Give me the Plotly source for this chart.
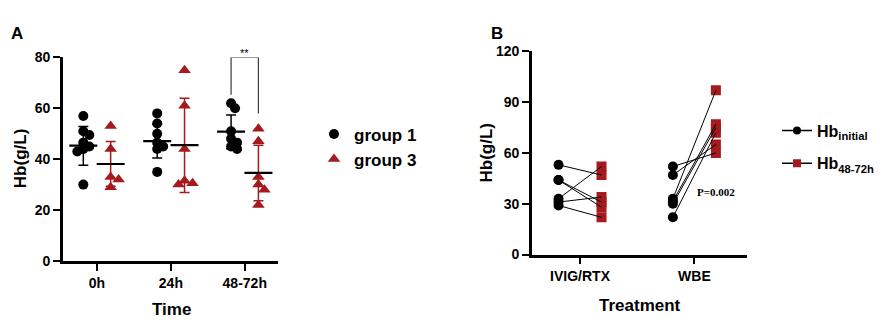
import math
import plotly.graph_objects as go

# ---------------- data: panel A ----------------
time_labels = ["0h", "24h", "48-72h"]
group1_0h = [57, 51, 49.5, 46.5, 45, 44, 43, 30]
group1_24h = [58, 54, 50, 46.5, 45, 44, 35]
group1_48h = [62, 60, 51, 48, 46.5, 45, 44]
group3_0h = [53, 44, 33, 32, 29]
group3_24h = [75, 61, 44, 31.5, 30.5, 30]
group3_48h = [52, 47, 33, 30, 28, 22]
group1_mean = [45.3, 47.1, 50.8]
group1_upper = [52.8, 53.7, 57.4]
group1_lower = [37.6, 40.5, 44.1]
group3_mean = [38.1, 45.5, 34.6]
group3_upper = [46.9, 64.0, 45.5]
group3_lower = [29.4, 26.9, 23.7]
sig_label = "**"
sig_left_end = 65.3
sig_right_end = 58.0
sig_top = 80

# ---------------- data: panel B ----------------
treatments = ["IVIG/RTX", "WBE"]
ivig_initial = [53, 44, 44, 33, 31, 29]
ivig_final = [47, 31, 28, 52, 34, 22]
wbe_initial = [52, 47, 33, 31.5, 30, 22]
wbe_final = [60, 65, 97, 77, 75, 72]
p_label = "P=0.002"

RED = "#A51A1C"
FONT = "Arial, Liberation Sans, sans-serif"
W, H = 887, 325


def px(x):
    return x / W


def py(y):
    return 1 - y / H


def swarm(vals, ppu_y, ppu_x, diam=6.0, step=2.0):
    placed, offs = [], []
    for v in vals:
        y = v * ppu_y
        for k in [0, 1, -1, 2, -2, 3, -3, 4, -4, 5, -5]:
            x = k * step
            if all(math.hypot(x - a, y - b) >= diam for a, b in placed):
                break
        placed.append((x, y))
        offs.append(x / ppu_x)
    return offs


fig = go.Figure()

# ---- panel A ----
A_PPY = 214 / 80.0
A_PPX = 74.0
OFF = 0.185
g1_sets = [group1_0h, group1_24h, group1_48h]
g3_sets = [group3_0h, group3_24h, group3_48h]

gx1, gy1, gx3, gy3 = [], [], [], []
for i, vals in enumerate(g1_sets):
    for v, o in zip(vals, swarm(vals, A_PPY, A_PPX)):
        gx1.append(i - OFF + o)
        gy1.append(v)
for i, vals in enumerate(g3_sets):
    for v, o in zip(vals, swarm(vals, A_PPY, A_PPX, diam=7.0)):
        gx3.append(i + OFF + o)
        gy3.append(v)

fig.add_trace(go.Scatter(x=gx1, y=gy1, mode="markers", name="group 1",
                         marker=dict(symbol="circle", size=10, color="black"),
                         xaxis="x", yaxis="y", legend="legend", legendgroup="g1"))
fig.add_trace(go.Scatter(x=gx3, y=gy3, mode="markers", name="group 3",
                         marker=dict(symbol="triangle-up", size=11, color=RED),
                         xaxis="x", yaxis="y", legend="legend", legendgroup="g3"))

# mean + SD
for means, up, lo, sign, col in [(group1_mean, group1_upper, group1_lower, -1, "black"),
                                 (group3_mean, group3_upper, group3_lower, 1, RED)]:
    xs = [i + sign * OFF for i in range(3)]
    fig.add_trace(go.Scatter(
        x=xs, y=means, mode="markers", showlegend=False,
        marker=dict(symbol="line-ew", size=20, color="black",
                    line=dict(width=2.2, color="black")),
        error_y=dict(type="data", symmetric=False,
                     array=[u - m for u, m in zip(up, means)],
                     arrayminus=[m - l for m, l in zip(means, lo)],
                     color=col, thickness=1.5, width=5),
        xaxis="x", yaxis="y"))

# significance bracket
xl, xr = 2 - OFF, 2 + OFF
fig.add_shape(type="path", xref="x", yref="y",
              path=f"M {xl},{sig_left_end} L {xl},{sig_top} L {xr},{sig_top} L {xr},{sig_right_end}",
              line=dict(color="#3a3a3a", width=1.2))
fig.add_annotation(x=2, y=sig_top, xref="x", yref="y", text=sig_label, showarrow=False,
                   yanchor="bottom", yshift=-4, font=dict(family=FONT, size=11, color="black"))

# ---- panel B ----
BOFF = 0.188
pairs = [(0, ivig_initial, ivig_final), (1, wbe_initial, wbe_final)]
ix, iy, fx, fy = [], [], [], []
for c, ini, fin in pairs:
    ix += [c - BOFF] * len(ini)
    iy += ini
    fx += [c + BOFF] * len(fin)
    fy += fin
fig.add_trace(go.Scatter(x=fx, y=fy, mode="markers", showlegend=False,
                         marker=dict(symbol="square", size=10, color=RED),
                         xaxis="x2", yaxis="y2"))
fig.add_trace(go.Scatter(x=ix, y=iy, mode="markers", showlegend=False,
                         marker=dict(symbol="circle", size=10, color="black"),
                         xaxis="x2", yaxis="y2"))
for c, ini, fin in pairs:
    for a, b in zip(ini, fin):
        fig.add_trace(go.Scatter(x=[c - BOFF, c + BOFF], y=[a, b], mode="lines",
                                 line=dict(color="black", width=1), showlegend=False,
                                 xaxis="x2", yaxis="y2", hoverinfo="skip"))

# legend entries for B
fig.add_trace(go.Scatter(x=[None], y=[None], mode="lines+markers",
                         name="Hb<sub>initial</sub>",
                         line=dict(color="black", width=1.5),
                         marker=dict(symbol="circle", size=8, color="black"),
                         xaxis="x2", yaxis="y2", legend="legend2", legendgroup="b1"))
fig.add_trace(go.Scatter(x=[None], y=[None], mode="lines+markers",
                         name="Hb<sub>48-72h</sub>",
                         line=dict(color="black", width=1.5),
                         marker=dict(symbol="square", size=8, color=RED),
                         xaxis="x2", yaxis="y2", legend="legend2", legendgroup="b2"))

fig.add_annotation(x=px(695), y=py(194), xref="paper", yref="paper", text=p_label,
                   showarrow=False, xanchor="left", yanchor="middle",
                   font=dict(family="Times New Roman, Liberation Serif, serif", size=11,
                             color="black", weight="bold"))

axis_common = dict(showline=True, linewidth=2.6, linecolor="black", ticks="outside",
                   ticklen=7, tickwidth=2.4, tickcolor="black", showgrid=False,
                   zeroline=False, fixedrange=True,
                   tickfont=dict(family=FONT, size=14, color="black", weight="bold"))

fig.update_layout(
    width=W, height=H, margin=dict(l=0, r=0, t=0, b=0),
    paper_bgcolor="white", plot_bgcolor="white",
    xaxis=dict(domain=[px(63), px(278)], range=[-0.46, 2.45], anchor="y",
               tickvals=[0, 1, 2], ticktext=time_labels, **axis_common),
    yaxis=dict(domain=[py(266), py(52)], range=[0, 80], anchor="x",
               tickvals=[0, 20, 40, 60, 80], **axis_common),
    xaxis2=dict(domain=[px(532), px(747)], range=[-0.42, 1.46], anchor="y2",
                tickvals=[0, 1], ticktext=treatments, **axis_common),
    yaxis2=dict(domain=[py(259.3), py(45.7)], range=[0, 120], anchor="x2",
                tickvals=[0, 30, 60, 90, 120], **axis_common),
    legend=dict(x=px(314), y=py(114), xanchor="left", yanchor="top",
                font=dict(family=FONT, size=17, color="black", weight="bold"),
                tracegroupgap=0, bgcolor="rgba(0,0,0,0)"),
    legend2=dict(x=px(777), y=py(111), xanchor="left", yanchor="top",
                 font=dict(family=FONT, size=16, color="black", weight="bold"),
                 tracegroupgap=9, bgcolor="rgba(0,0,0,0)"),
    showlegend=True,
)

annots = [
    dict(x=px(17), y=py(27), text="A", size=17),
    dict(x=px(497), y=py(27), text="B", size=17),
    dict(x=px(171), y=py(317), text="Time", size=17),
    dict(x=px(640), y=py(313), text="Treatment", size=17),
]
for a in annots:
    fig.add_annotation(x=a["x"], y=a["y"], xref="paper", yref="paper", text=a["text"],
                       showarrow=False, xanchor="center", yanchor="middle",
                       font=dict(family=FONT, size=a["size"], color="black", weight="bold"))
for xx, yy in [(20, 159), (487, 152)]:
    fig.add_annotation(x=px(xx), y=py(yy), xref="paper", yref="paper", text="Hb(g/L)",
                       showarrow=False, textangle=-90, xanchor="center", yanchor="middle",
                       font=dict(family=FONT, size=17, color="black", weight="bold"))

POST = ("document.documentElement.style.margin='0';document.body.style.margin='0';"
        "document.documentElement.style.overflow='hidden';document.body.style.overflow='hidden';"
        "var d=document.getElementById('{plot_id}');d.style.position='fixed';"
        "d.style.top='0px';d.style.left='0px';")
fig.write_html("out.html", config={"displayModeBar": False}, post_script=POST)
